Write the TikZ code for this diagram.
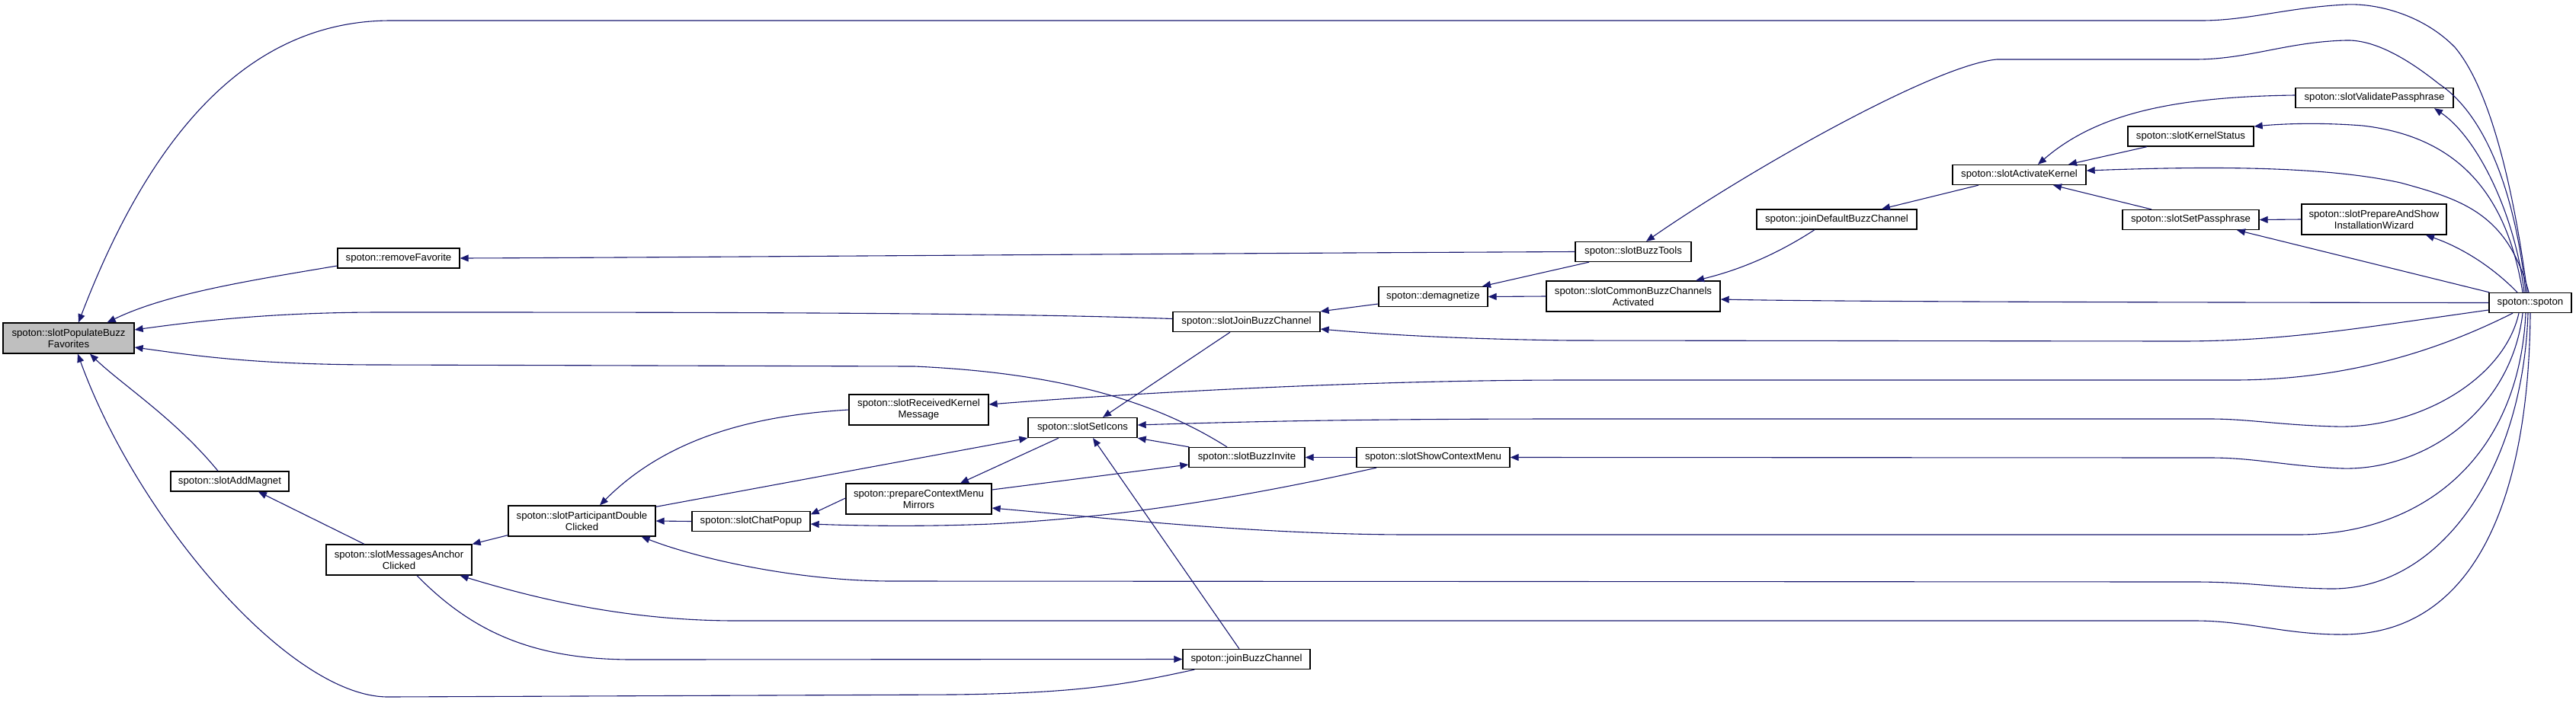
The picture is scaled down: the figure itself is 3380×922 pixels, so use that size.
\documentclass[tikz,border=0pt]{standalone}
\usepackage{fontspec}
\setmainfont{Liberation Sans}
\usetikzlibrary{arrows.meta,calc}
\definecolor{edgec}{RGB}{25,25,112}
\definecolor{popfill}{RGB}{191,191,191}
\tikzset{
  nd/.style={draw=black, line width=1.3pt, fill=white, inner sep=0pt, align=center,
     font=\fontsize{13.2}{15}\selectfont, minimum height=26pt},
  nd2/.style={nd, minimum height=40pt},
  edge/.style={draw=edgec, line width=1.1pt, -{Triangle[length=11pt,width=9pt]}}
}
\begin{document}
\begin{tikzpicture}[x=1pt,y=-1pt]
\useasboundingbox (0,0) rectangle (3380,922);
% nodes
\node[nd2, fill=popfill, minimum width=172pt] (pop) at (90,444) {spoton::slotPopulateBuzz\\Favorites};
\node[nd, minimum width=160pt] (remFav) at (523,339) {spoton::removeFavorite};
\node[nd, minimum width=155pt] (addMag) at (301.5,632) {spoton::slotAddMagnet};
\node[nd2, minimum width=191pt] (msgAnchor) at (523.5,735) {spoton::slotMessagesAnchor\\Clicked};
\node[nd2, minimum width=193pt] (partDbl) at (763.5,684) {spoton::slotParticipantDouble\\Clicked};
\node[nd, minimum width=155pt] (chatPopup) at (985.5,684.5) {spoton::slotChatPopup};
\node[nd2, minimum width=183pt] (recvKernel) at (1205.5,538) {spoton::slotReceivedKernel\\Message};
\node[nd2, minimum width=191pt] (prepCtx) at (1205.5,655) {spoton::prepareContextMenu\\Mirrors};
\node[nd, minimum width=143pt] (setIcons) at (1420.5,561.5) {spoton::slotSetIcons};
\node[nd, minimum width=152pt] (buzzInvite) at (1636,600.5) {spoton::slotBuzzInvite};
\node[nd, minimum width=201pt] (showCtx) at (1880.5,600.5) {spoton::slotShowContextMenu};
\node[nd, minimum width=167pt] (joinBuzz) at (1635.5,865.5) {spoton::joinBuzzChannel};
\node[nd, minimum width=193pt] (slotJoinBuzz) at (1635.5,422.5) {spoton::slotJoinBuzzChannel};
\node[nd, minimum width=143pt] (demag) at (1880.5,389.5) {spoton::demagnetize};
\node[nd, minimum width=152pt] (buzzTools) at (2143,330.5) {spoton::slotBuzzTools};
\node[nd2, minimum width=228pt] (commonBuzz) at (2143,389) {spoton::slotCommonBuzzChannels\\Activated};
\node[nd, minimum width=210pt] (joinDefault) at (2410,288) {spoton::joinDefaultBuzzChannel};
\node[nd, minimum width=175pt] (activateKernel) at (2649.5,229.5) {spoton::slotActivateKernel};
\node[nd, minimum width=207pt] (validatePass) at (3115.5,128.5) {spoton::slotValidatePassphrase};
\node[nd, minimum width=165pt] (kernelStatus) at (2874.5,179) {spoton::slotKernelStatus};
\node[nd, minimum width=179pt] (setPass) at (2874.5,288.5) {spoton::slotSetPassphrase};
\node[nd2, minimum width=190pt] (prepShow) at (3115,288) {spoton::slotPrepareAndShow\\InstallationWizard};
\node[nd, minimum width=108pt] (spoton) at (3320,397.5) {spoton::spoton};

% edges into pop
\draw[edge] ($(spoton.north)+(-4,0)$) .. controls (3300,260) and (3270,120) .. (3221,62) .. controls (3180,20) and (3120,4) .. (3078,6) .. controls (3000,10) and (2950,27) .. (2888,27) -- (513,27) .. controls (330,27) and (200,170) .. ($(pop.north)+(13,0)$);
\draw[edge] ($(remFav.west)+(0,10)$) .. controls (330,368) and (220,385) .. ($(pop.north east)+(-36,0)$);
\draw[edge] ($(slotJoinBuzz.west)+(0,-4)$) .. controls (1300,410) and (900,410) .. (500,410) .. controls (350,410) and (250,423) .. ($(pop.east)+(0,-11)$);
\draw[edge] ($(buzzInvite.north)+(-26,0)$) .. controls (1520,530) and (1400,490) .. (1200,481) -- (500,479) .. controls (330,479) and (250,466) .. ($(pop.east)+(0,12)$);
\draw[edge] ($(addMag.north)+(-15.5,0)$) .. controls (230,550) and (160,505) .. ($(pop.south)+(28,0)$);
\draw[edge] ($(joinBuzz.south west)+(16,0)$) .. controls (1480,898) and (1420,910) .. (1250,912) -- (509,915) .. controls (380,915) and (180,680) .. ($(pop.south)+(12,0)$);

% left part
\draw[edge] (buzzTools.west) .. controls (1500,333) and (900,338) .. (remFav.east);
\draw[edge] ($(msgAnchor.north)+(-45.5,0)$) -- ($(addMag.south)+(37.5,0)$);
\draw[edge] ($(partDbl.south west)+(0,-2)$) -- (msgAnchor.north east);
\draw[edge] ($(msgAnchor.south)+(23.5,0)$) .. controls (620,830) and (700,866) .. (830,866) -- (joinBuzz.west);
\draw[edge] ($(spoton.south)+(0,0)$) .. controls (3318,650) and (3250,830) .. (3078,833) .. controls (3000,834) and (2950,815) .. (2880,815) -- (966,815) .. controls (820,815) and (700,785) .. ($(msgAnchor.south east)+(-16,0)$);
\draw[edge] ($(spoton.south)+(-3,0)$) .. controls (3310,620) and (3200,775) .. (3057,773) .. controls (2990,772) and (2950,764) .. (2880,764) -- (1171,763) .. controls (1050,763) and (920,735) .. ($(partDbl.south east)+(-19,0)$);
\draw[edge] (chatPopup.west) -- (partDbl.east);
\draw[edge] (recvKernel.west) .. controls (1000,545) and (880,570) .. ($(partDbl.north)+(23.5,0)$);

% setIcons region
\draw[edge] ($(partDbl.north east)+(0,2)$) -- (setIcons.south west);
\draw[edge] ($(setIcons.south)+(-31.5,0)$) -- ($(prepCtx.north)+(54.5,0)$);
\draw[edge] ($(slotJoinBuzz.south)+(-21.5,0)$) -- ($(setIcons.north)+(26.5,0)$);
\draw[edge] ($(joinBuzz.north)+(-9.5,0)$) -- ($(setIcons.south)+(13.5,0)$);
\draw[edge] ($(buzzInvite.north west)+(1,0)$) -- (setIcons.south east);
\draw[edge] ($(spoton.south)+(-15,0)$) .. controls (3285,500) and (3170,563) .. (3065,560) .. controls (2990,558) and (2950,550) .. (2900,550) -- (2060,550) .. controls (1800,550) and (1650,553) .. ($(setIcons.east)+(0,-3.5)$);
\draw[edge] ($(spoton.south)+(-23,0)$) .. controls (3200,460) and (3080,499) .. (2930,499) -- (2060,499) .. controls (1800,499) and (1500,515) .. ($(recvKernel.east)+(0,-7)$);
\draw[edge] ($(spoton.south)+(-10,0)$) .. controls (3295,540) and (3180,618) .. (3073,615) .. controls (3000,612) and (2960,601) .. (2900,601) -- (showCtx.east);
\draw[edge] (showCtx.west) -- (buzzInvite.east);
\draw[edge] ($(showCtx.south)+(-74.5,0)$) .. controls (1600,660) and (1450,680) .. (1300,688) .. controls (1200,692) and (1120,690) .. ($(chatPopup.east)+(0,3.5)$);
\draw[edge] ($(prepCtx.west)+(0,-1)$) -- ($(chatPopup.east)+(0,-9)$);
\draw[edge] ($(spoton.south)+(-6,0)$) .. controls (3305,600) and (3180,702) .. (3015,702) -- (1851,702) .. controls (1650,702) and (1450,680) .. ($(prepCtx.east)+(0,12)$);
\draw[edge] ($(prepCtx.east)+(0,-12)$) -- ($(buzzInvite.west)+(0,9.5)$);

% middle
\draw[edge] ($(buzzTools.south)+(-58,0)$) -- ($(demag.north)+(64.5,0)$);
\draw[edge] (commonBuzz.west) -- (demag.east);
\draw[edge] ($(demag.west)+(0,9.5)$) -- (slotJoinBuzz.north east);
\draw[edge] ($(spoton.west)+(0,9.5)$) .. controls (3100,430) and (3000,448) .. (2860,448) -- (2060,447) .. controls (1900,445) and (1800,438) .. ($(slotJoinBuzz.east)+(0,9.5)$);
\draw[edge] (spoton.west) .. controls (2800,397) and (2400,396) .. ($(commonBuzz.east)+(0,4)$);
\draw[edge] ($(joinDefault.south)+(-29,0)$) .. controls (2330,335) and (2280,355) .. ($(commonBuzz.north)+(82,0)$);
\draw[edge] ($(activateKernel.south)+(-53.5,0)$) -- ($(joinDefault.north)+(59,0)$);

% right part
\draw[edge] ($(validatePass.west)+(0,-3.5)$) .. controls (2850,127) and (2750,150) .. ($(activateKernel.north)+(24.5,0)$);
\draw[edge] ($(kernelStatus.south)+(-57.5,0)$) -- ($(activateKernel.north)+(64.5,0)$);
\draw[edge] ($(spoton.north)+(-2,0)$) .. controls (3290,280) and (3230,262) .. (3150,240) .. controls (3050,218) and (2900,218) .. ($(activateKernel.east)+(0,-5.5)$);
\draw[edge] ($(setPass.north)+(-51.5,0)$) -- ($(activateKernel.south)+(44.5,0)$);
\draw[edge] (prepShow.west) -- (setPass.east);
\draw[edge] ($(spoton.north west)+(1,0)$) -- ($(setPass.south)+(60.5,0)$);
\draw[edge] ($(spoton.north)+(-17,0)$) .. controls (3270,350) and (3230,325) .. ($(prepShow.south)+(68,0)$);
\draw[edge] ($(spoton.north)+(-10,0)$) .. controls (3290,260) and (3230,180) .. (3100,165) .. controls (3050,161) and (3000,162) .. ($(kernelStatus.east)+(0,-13)$);
\draw[edge] ($(spoton.north)+(-8,0)$) .. controls (3300,280) and (3250,180) .. ($(validatePass.south)+(78.5,0)$);
\draw[edge] ($(spoton.north)+(-6,0)$) .. controls (3300,250) and (3260,150) .. (3200,110) .. controls (3150,70) and (3110,52) .. (3078,53) .. controls (3000,55) and (2950,78) .. (2880,78) -- (2620,78) .. controls (2540,85) and (2300,220) .. ($(buzzTools.north)+(17,0)$);
\end{tikzpicture}
\end{document}
